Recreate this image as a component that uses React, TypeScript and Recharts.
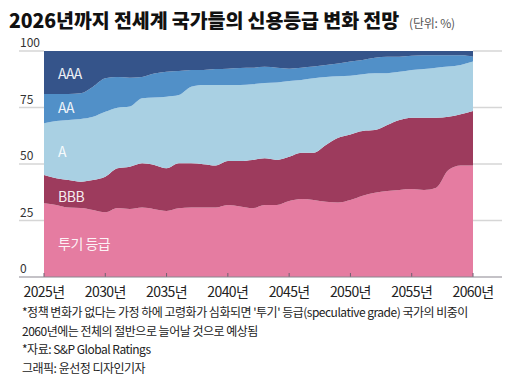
import { AreaChart, Area, XAxis, YAxis } from 'recharts'

const years = [
  2025, 2026, 2027, 2028, 2029, 2030, 2031, 2032, 2033, 2034, 2035, 2036,
  2037, 2038, 2039, 2040, 2041, 2042, 2043, 2044, 2045, 2046, 2047, 2048,
  2049, 2050, 2051, 2052, 2053, 2054, 2055, 2056, 2057, 2058, 2059, 2060,
]

// 등급별 비중 (%)
const speculative = [
  32.6, 31.9, 30.7, 30.5, 29.6, 28.6, 30.5, 30.1, 30.7, 30.0, 29.2, 30.4,
  30.7, 30.7, 30.7, 31.9, 31.2, 30.4, 31.9, 31.9, 33.6, 34.5, 34.1, 33.3,
  33.0, 34.1, 36.0, 37.3, 38.1, 38.5, 38.9, 38.5, 39.5, 47.3, 49.3, 49.3,
]
const bbb = [
  12.5, 11.8, 12.2, 11.7, 13.3, 15.8, 17.6, 18.7, 19.6, 19.6, 18.9, 19.9,
  19.6, 19.2, 18.6, 19.4, 20.1, 21.4, 20.6, 19.9, 19.6, 20.5, 20.9, 25.1,
  28.6, 29.0, 28.6, 27.7, 29.2, 31.0, 31.6, 32.0, 31.0, 23.6, 22.7, 24.2,
]
const a = [
  22.9, 25.3, 26.6, 27.7, 28.0, 28.7, 26.8, 26.6, 28.8, 29.8, 31.7, 30.2,
  33.9, 35.1, 35.7, 33.7, 33.7, 33.5, 33.3, 34.3, 33.5, 32.2, 32.9, 30.1,
  27.2, 25.9, 25.1, 25.1, 22.9, 21.3, 21.1, 21.5, 22.1, 22.2, 21.8, 21.8,
]
const aa = [
  13.0, 12.0, 11.5, 11.4, 13.3, 14.8, 13.6, 12.8, 9.4, 10.6, 11.0, 10.6,
  7.4, 6.6, 7.0, 7.2, 7.5, 7.3, 7.2, 6.5, 5.5, 5.4, 5.2, 5.3,
  5.7, 6.3, 6.3, 6.9, 7.3, 6.7, 6.3, 6.1, 5.5, 5.0, 4.3, 2.2,
]
const aaa = [
  19.0, 19.0, 19.0, 18.7, 15.8, 12.1, 11.5, 11.8, 11.5, 10.0, 9.2, 8.9,
  8.4, 8.4, 8.0, 7.8, 7.5, 7.4, 7.0, 7.4, 7.8, 7.4, 6.9, 6.2,
  5.5, 4.7, 4.0, 3.0, 2.5, 2.5, 2.1, 1.9, 1.9, 1.9, 1.9, 2.5,
]

const xTicks = [2025, 2030, 2035, 2040, 2045, 2050, 2055, 2060]
const yTicks = [0, 25, 50, 75, 100]

const series = [
  { key: 'speculative', color: '#e57ca1' },
  { key: 'bbb', color: '#9d3b5d' },
  { key: 'a', color: '#a9d0e3' },
  { key: 'aa', color: '#5190c8' },
  { key: 'aaa', color: '#35548a' },
]

const FONT = "'Noto Sans CJK KR', 'Noto Sans', sans-serif"
const PLOT_LEFT = 44
const PLOT_RIGHT = 473
const GRID_LEFT = 19
const GRID_RIGHT = 502

const data = years.map((year, i) => ({
  year,
  speculative: speculative[i],
  bbb: bbb[i],
  a: a[i],
  aa: aa[i],
  aaa: aaa[i],
}))

// y tick: label above + grid stubs outside the plot (0 line spans full width)
function YTick(props: any) {
  const { y, payload } = props
  const isZero = payload.value === 0
  return (
    <g>
      {isZero ? (
        <line x1={GRID_LEFT} x2={GRID_RIGHT} y1={y} y2={y} stroke="#8a8590" strokeWidth={1.2} />
      ) : (
        <>
          <line x1={GRID_LEFT} x2={PLOT_LEFT} y1={y} y2={y} stroke="#d6d6d6" strokeWidth={1.5} />
          <line x1={PLOT_RIGHT} x2={GRID_RIGHT} y1={y} y2={y} stroke="#d6d6d6" strokeWidth={1.5} />
        </>
      )}
      <text x={20} y={y - 4} fontSize={12} fill="#333" fontFamily={FONT} textAnchor="start">
        {payload.value}
      </text>
    </g>
  )
}

function XTick(props: any) {
  const { x, y, payload } = props
  return (
    <g>
      <line x1={x} x2={x} y1={y - 4} y2={y} stroke="#6e5f70" strokeWidth={1} />
      <text x={x} y={y + 20} textAnchor="middle" fontSize={14} letterSpacing={-0.6} fill="#222" fontFamily={FONT}>
        {`${payload.value}년`}
      </text>
    </g>
  )
}

const areaLabel = (text: string, top: number) => (
  <div
    style={{
      position: 'absolute',
      left: 58,
      top,
      fontSize: 14,
      lineHeight: '14px',
      color: 'rgba(255,255,255,0.92)',
      fontFamily: FONT,
      letterSpacing: -0.5,
    }}
  >
    {text}
  </div>
)

export default function App() {
  return (
    <div
      style={{
        position: 'absolute',
        left: 0,
        top: 0,
        width: 520,
        height: 375,
        background: '#fff',
        fontFamily: FONT,
        overflow: 'hidden',
      }}
    >
      {/* Title */}
      <div style={{ position: 'absolute', left: 9, top: 5, whiteSpace: 'nowrap' }}>
        <span style={{ fontSize: 19.5, fontWeight: 800, letterSpacing: -0.1, color: '#111' }}>
          2026년까지 전세계 국가들의 신용등급 변화 전망
        </span>
        <span style={{ fontSize: 12, color: '#555', marginLeft: 10, letterSpacing: -0.2 }}>(단위: %)</span>
      </div>

      <div style={{ position: 'absolute', left: 0, top: 0 }}>
        <AreaChart
          width={520}
          height={300}
          data={data}
          margin={{ top: 51, right: 520 - PLOT_RIGHT, bottom: 3, left: 0 }}
        >
          <XAxis
            dataKey="year"
            type="number"
            domain={[2025, 2060]}
            ticks={xTicks}
            axisLine={false}
            tickLine={false}
            tickSize={0}
            tickMargin={0}
            height={20}
            tick={<XTick />}
            interval={0}
          />
          <YAxis
            type="number"
            domain={[0, 100]}
            ticks={yTicks}
            width={PLOT_LEFT}
            axisLine={false}
            tickLine={false}
            tick={<YTick />}
            interval={0}
          />
          {series.map((s) => (
            <Area
              key={s.key}
              type="monotone"
              dataKey={s.key}
              stackId="1"
              stroke="none"
              fill={s.color}
              fillOpacity={1}
              isAnimationActive={false}
              dot={false}
              activeDot={false}
            />
          ))}
        </AreaChart>
      </div>

      {areaLabel('AAA', 66)}
      {areaLabel('AA', 100)}
      {areaLabel('A', 144)}
      {areaLabel('BBB', 189)}
      {areaLabel('투기 등급', 236)}

      {/* Footnotes */}
      <div
        style={{
          position: 'absolute',
          left: 22,
          top: 303,
          fontSize: 12,
          lineHeight: '18.5px',
          color: '#222',
          letterSpacing: -0.5,
          whiteSpace: 'nowrap',
        }}
      >
        <div>*정책 변화가 없다는 가정 하에 고령화가 심화되면 '투기' 등급(speculative grade) 국가의 비중이</div>
        <div>2060년에는 전체의 절반으로 늘어날 것으로 예상됨</div>
        <div>*자료: S&amp;P Global Ratings</div>
        <div>그래픽: 윤선정 디자인기자</div>
      </div>
    </div>
  )
}
